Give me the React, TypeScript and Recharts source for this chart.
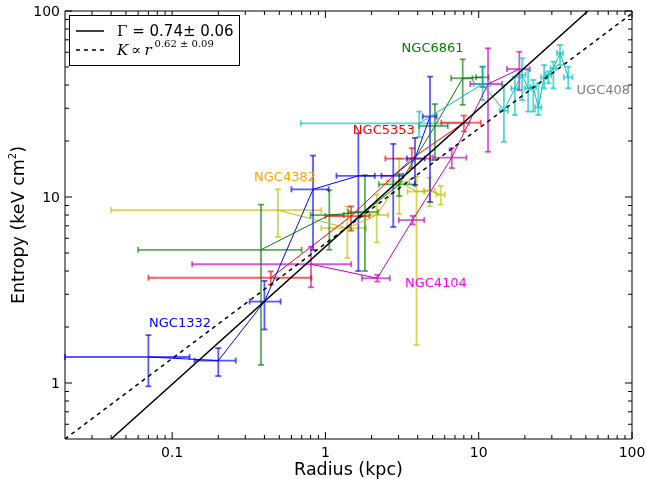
import React from 'react';
import { ComposedChart, Scatter, XAxis, YAxis, ErrorBar, ReferenceArea, Label } from 'recharts';

type Pt = { x: number; y: number; ex: number | number[]; ey: number | number[] };

// radius (kpc), entropy (keV cm^2), errors as [minus, plus] or symmetric
const ngc1332: Pt[] = [
  { x: 0.07, y: 1.38, ex: [0.05, 0.06], ey: [0.42, 0.43] },
  { x: 0.2, y: 1.32, ex: 0.06, ey: [0.23, 0.22] },
  { x: 0.4, y: 2.74, ex: [0.08, 0.11], ey: 0.8 },
  { x: 0.83, y: 11, ex: [0.23, 0.22], ey: [5.8, 5.7] },
  { x: 1.64, y: 13, ex: 0.46, ey: 9 },
  { x: 2.77, y: 13, ex: 0.45, ey: [6.1, 6.3] },
  { x: 3.84, y: 16.1, ex: [0.44, 0.6], ey: [4.5, 4.7] },
  { x: 4.81, y: 27.1, ex: 0.5, ey: [17.7, 17.3] },
];

const ngc5353: Pt[] = [
  { x: 0.44, y: 3.68, ex: 0.37, ey: 0.3 },
  { x: 1.47, y: 7.9, ex: 0.47, ey: [1.3, 1.0] },
  { x: 3.66, y: 16.1, ex: 1.2, ey: [1.8, 2.2] },
  { x: 8.0, y: 25.1, ex: 2.3, ey: [2.6, 2.3] },
];

const ngc6861: Pt[] = [
  { x: 0.38, y: 5.2, ex: 0.32, ey: [3.95, 3.9] },
  { x: 1.06, y: 8.0, ex: 0.26, ey: [2.8, 2.9] },
  { x: 1.81, y: 8.3, ex: 0.4, ey: [4.3, 4.8] },
  { x: 3.03, y: 11.7, ex: 0.8, ey: 1.6 },
  { x: 5.18, y: 24.1, ex: 1.1, ey: [8.3, 7.5] },
  { x: 7.86, y: 43.5, ex: 1.25, ey: [12.2, 11.5] },
  { x: 10.6, y: 44.0, ex: 1.0, ey: [5, 6.2] },
];

const ngc4382: Pt[] = [
  { x: 0.49, y: 8.5, ex: 0.45, ey: [2.4, 2.5] },
  { x: 1.39, y: 6.8, ex: 0.45, ey: 2.1 },
  { x: 2.16, y: 8.0, ex: 0.4, ey: 2.3 },
  { x: 3.03, y: 12.1, ex: 0.5, ey: 4 },
  { x: 3.93, y: 10.7, ex: 0.5, ey: [9.1, 2.2] },
  { x: 4.78, y: 10.8, ex: 0.4, ey: 1.9 },
  { x: 5.65, y: 10.3, ex: 0.35, ey: 1.2 },
];

const ngc4104: Pt[] = [
  { x: 0.805, y: 4.35, ex: 0.67, ey: [1.08, 1.06] },
  { x: 2.18, y: 3.66, ex: 0.45, ey: 0.15 },
  { x: 3.71, y: 7.52, ex: 0.7, ey: 0.4 },
  { x: 6.67, y: 16.3, ex: 1.65, ey: 2 },
  { x: 11.5, y: 40.5, ex: 2.7, ey: [23, 22.5] },
  { x: 18.4, y: 48.7, ex: 3.1, ey: [11.1, 11.7] },
];

const ugc408: Pt[] = [
  { x: 4.09, y: 24.9, ex: [3.4, 4.6], ey: 3.9 },
  { x: 10.6, y: 40.5, ex: 1.3, ey: [7.3, 9.7] },
  { x: 14.6, y: 29.1, ex: 0.9, ey: [9.3, 10.9] },
  { x: 17.2, y: 38.4, ex: 0.9, ey: [10.8, 5.9] },
  { x: 19.2, y: 45.3, ex: 1.0, ey: [12.1, 10.4] },
  { x: 21.0, y: 38.4, ex: 1.0, ey: [9.6, 9.8] },
  { x: 22.7, y: 38.9, ex: 1.0, ey: [10.1, 3.7] },
  { x: 24.5, y: 30.3, ex: 1.1, ey: [2.7, 10.6] },
  { x: 26.7, y: 44.0, ex: 1.2, ey: [5.6, 7.2] },
  { x: 28.5, y: 45.3, ex: 1.2, ey: [4.4, 2] },
  { x: 30.7, y: 49.2, ex: 1.3, ey: [10.8, 4.2] },
  { x: 33.9, y: 59.3, ex: 1.5, ey: [8.1, 6.4] },
  { x: 38.4, y: 44.0, ex: 2.5, ey: [5.6, 6.2] },
];

// fitted power laws, end points at the frame
const fitGamma = [
  { x: 0.04, y: 0.5 },
  { x: 51.6, y: 100 },
];
const fitK = [
  { x: 0.02, y: 0.5 },
  { x: 100, y: 97 },
];

const groups = [
  { name: 'NGC4382', data: ngc4382, color: '#bfbf00' },
  { name: 'NGC6861', data: ngc6861, color: '#008000' },
  { name: 'NGC4104', data: ngc4104, color: '#bf00bf' },
  { name: 'UGC408', data: ugc408, color: '#00bfbf' },
  { name: 'NGC5353', data: ngc5353, color: '#ff0000' },
  { name: 'NGC1332', data: ngc1332, color: '#0000ff' },
];

const names = [
  { x: 0.0707, y: 2.0, text: 'NGC1332', color: '#0000ff' },
  { x: 0.342, y: 12.2, text: 'NGC4382', color: '#ffa500' },
  { x: 1.51, y: 21.7, text: 'NGC5353', color: '#ff0000' },
  { x: 3.14, y: 60.5, text: 'NGC6861', color: '#008000' },
  { x: 43.5, y: 35.8, text: 'UGC408', color: '#808080' },
  { x: 3.3, y: 3.28, text: 'NGC4104', color: '#ff00ff' },
];

const xMajor = [0.1, 1, 10, 100];
const xMinor = [
  0.03, 0.04, 0.05, 0.06, 0.07, 0.08, 0.09,
  0.2, 0.3, 0.4, 0.5, 0.6, 0.7, 0.8, 0.9,
  2, 3, 4, 5, 6, 7, 8, 9,
  20, 30, 40, 50, 60, 70, 80, 90,
];
const yMajor = [1, 10, 100];
const yMinor = [
  0.6, 0.7, 0.8, 0.9,
  2, 3, 4, 5, 6, 7, 8, 9,
  20, 30, 40, 50, 60, 70, 80, 90,
];

const FONT = '"DejaVu Sans", sans-serif';
const PLOT_W = 567;
const PLOT_H = 428;

const XTick = (props: any) => {
  const { x, y, payload } = props;
  const v = payload.value;
  const major = xMajor.includes(v);
  const len = major ? 7 : 4;
  return (
    <g>
      <line x1={x} x2={x} y1={y} y2={y - len} stroke="#000" />
      <line x1={x} x2={x} y1={y - PLOT_H} y2={y - PLOT_H + len} stroke="#000" />
      {major && (
        <text x={x} y={y + 18} textAnchor="middle" fontSize={14} fontFamily={FONT} fill="#000">
          {String(v)}
        </text>
      )}
    </g>
  );
};

const YTick = (props: any) => {
  const { x, y, payload } = props;
  const v = payload.value;
  const major = yMajor.includes(v);
  const len = major ? 7 : 4;
  return (
    <g>
      <line x1={x} x2={x + len} y1={y} y2={y} stroke="#000" />
      <line x1={x + PLOT_W} x2={x + PLOT_W - len} y1={y} y2={y} stroke="#000" />
      {major && (
        <text x={x - 5} y={y} dy="0.36em" textAnchor="end" fontSize={14} fontFamily={FONT} fill="#000">
          {String(v)}
        </text>
      )}
    </g>
  );
};

const NameLabel = (props: any) => {
  const { cx, cy, payload } = props;
  return (
    <text x={cx} y={cy} fontSize={13} fontFamily={FONT} fill={payload.color}>
      {payload.text}
    </text>
  );
};

const noDot = () => <g />;

export default function App() {
  return (
    <div style={{ position: 'fixed', left: 0, top: 0, width: 646, height: 479 }}>
      <ComposedChart width={646} height={479} margin={{ top: 11, right: 14, bottom: 0, left: 0 }}>
        <XAxis
          dataKey="x"
          type="number"
          scale="log"
          domain={[0.02, 100]}
          allowDataOverflow
          ticks={[...xMinor, ...xMajor]}
          interval={0}
          tick={<XTick />}
          tickSize={0}
          tickMargin={0}
          tickLine={false}
          axisLine={false}
          height={40}
        >
          <Label
            content={() => (
              <text x={348.5} y={475} textAnchor="middle" fontSize={17.5} fontFamily={FONT} fill="#000">
                Radius (kpc)
              </text>
            )}
          />
        </XAxis>
        <YAxis
          dataKey="y"
          type="number"
          scale="log"
          domain={[0.5, 100]}
          allowDataOverflow
          ticks={[...yMinor, ...yMajor]}
          interval={0}
          tick={<YTick />}
          tickSize={0}
          tickMargin={0}
          tickLine={false}
          axisLine={false}
          width={65}
        >
          <Label
            content={() => (
              <text
                x={24}
                y={225}
                transform="rotate(-90, 24, 225)"
                textAnchor="middle"
                fontSize={17.5}
                fontFamily={FONT}
                fill="#000"
              >
                Entropy (keV cm
                <tspan fontSize={10} dy={-8}>2</tspan>
                <tspan dy={8}>)</tspan>
              </text>
            )}
          />
        </YAxis>
        <ReferenceArea x1={0.02} x2={100} y1={0.5} y2={100} fill="none" stroke="#000" strokeWidth={1} />
        {groups.map((g) => (
          <Scatter
            key={g.name}
            data={g.data}
            line={{ stroke: g.color, strokeWidth: 1 }}
            shape={noDot}
            isAnimationActive={false}
          >
            <ErrorBar dataKey="ex" direction="x" width={3} stroke={g.color} strokeWidth={1.8} strokeOpacity={0.65} isAnimationActive={false} />
            <ErrorBar dataKey="ey" direction="y" width={3} stroke={g.color} strokeWidth={1.8} strokeOpacity={0.65} isAnimationActive={false} />
          </Scatter>
        ))}
        <Scatter data={fitGamma} line={{ stroke: '#000', strokeWidth: 1.5 }} shape={noDot} isAnimationActive={false} />
        <Scatter data={fitK} line={{ stroke: '#000', strokeWidth: 1.5, strokeDasharray: '4 4' }} shape={noDot} isAnimationActive={false} />
        <Scatter data={names} shape={<NameLabel />} isAnimationActive={false} />
      </ComposedChart>
      <div
        style={{
          position: 'absolute',
          left: 69,
          top: 15,
          width: 171,
          height: 51,
          background: '#fff',
          border: '1px solid #000',
          boxSizing: 'border-box',
        }}
      >
        <svg width={169} height={49} style={{ display: 'block' }}>
          <line x1={6} x2={34} y1={15} y2={15} stroke="#000" strokeWidth={1.5} />
          <text x={47} y={20} fontSize={15} fill="#000">
            <tspan fontFamily='"DejaVu Serif", serif'>Γ</tspan>
            <tspan fontFamily={FONT}> =  0.74± 0.06</tspan>
          </text>
          <line x1={6} x2={34} y1={34} y2={34} stroke="#000" strokeWidth={1.5} strokeDasharray="4 4" />
          <text x={47} y={39} fontSize={15} fontFamily='"DejaVu Serif", serif' fontStyle="italic" fill="#000">
            K
            <tspan fontStyle="normal" dx={3}>∝</tspan>
            <tspan dx={3}>r</tspan>
            <tspan fontSize={10} fontStyle="normal" dx={3} dy={-8}>0.62 ± 0.09</tspan>
          </text>
        </svg>
      </div>
    </div>
  );
}
